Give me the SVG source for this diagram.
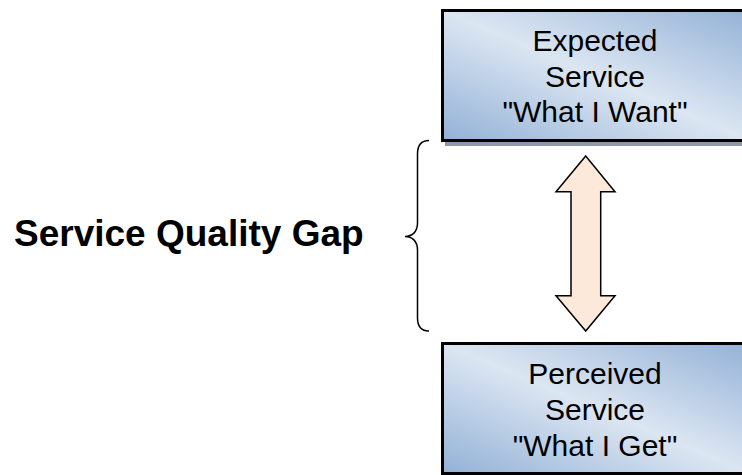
<svg xmlns="http://www.w3.org/2000/svg" width="742" height="475" viewBox="0 0 742 475">
<style>
.box{stroke:#000;stroke-width:3;fill:url(#g)}
.shadow{fill:#8e98a8}
.t{font-family:"Liberation Sans",Arial,sans-serif;font-size:30px;fill:#000;text-anchor:middle}
.lbl{font-family:"Liberation Sans",Arial,sans-serif;font-size:37px;font-weight:bold;fill:#000}
</style>
<defs>
<linearGradient id="g" x1="0" y1="1" x2="1" y2="0">
<stop offset="0" stop-color="#93b1d6"/>
<stop offset="0.5" stop-color="#dce6f2"/>
<stop offset="1" stop-color="#93b1d6"/>
</linearGradient>
</defs>
<rect width="742" height="475" fill="#fff"/>
<text class="lbl" x="14" y="246">Service Quality Gap</text>
<g id="expected">
<rect class="shadow" x="445" y="14" width="308" height="132"/>
<rect class="box" x="442.5" y="10.5" width="308" height="130"/>
<text class="t" x="595" y="51">Expected</text>
<text class="t" x="595" y="86.5">Service</text>
<text class="t" x="595" y="122">"What I Want"</text>
</g>
<g id="perceived">
<rect class="shadow" x="445" y="347" width="308" height="132"/>
<rect class="box" x="442.5" y="343.5" width="308" height="130"/>
<text class="t" x="595" y="384">Perceived</text>
<text class="t" x="595" y="420">Service</text>
<text class="t" x="595" y="456">"What I Get"</text>
</g>
<g id="connectors">
<path d="M429,140.5 C421,140.5 417.5,145 417.5,154 L417.5,223 C417.5,232 412,236.5 405,236.5 C412,236.5 417.5,241 417.5,250 L417.5,318 C417.5,327 421,331 429,331" fill="none" stroke="#000" stroke-width="1.5"/>
<polygon points="585.7,156 615,191.7 600.7,191.7 600.7,295.7 615,295.7 585.7,331 556,295.7 571,295.7 571,191.7 556,191.7" fill="#fde9d9" stroke="#000" stroke-width="1.5" stroke-linejoin="miter"/>
</g>
</svg>
